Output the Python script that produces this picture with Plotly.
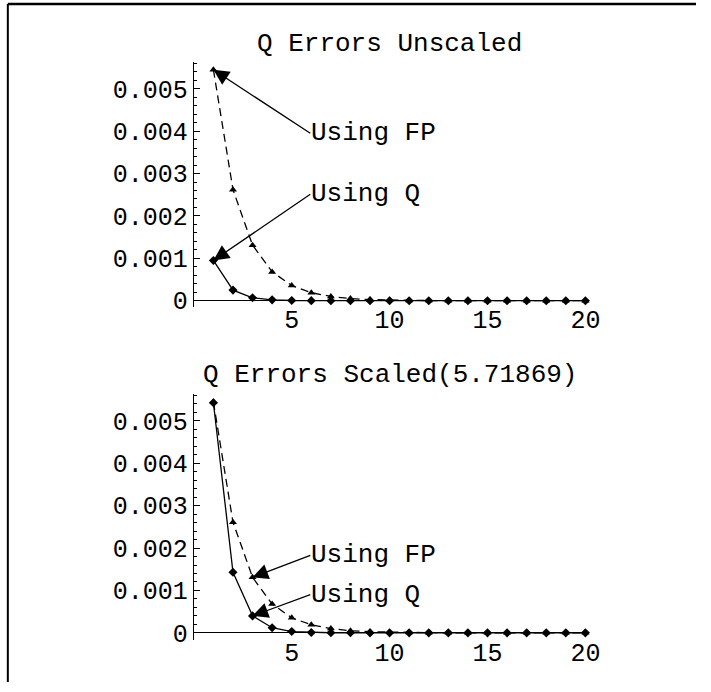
import plotly.graph_objects as go

W, H = 711, 692

x_vals = list(range(1, 21))

# Top plot: unscaled errors
fp_unscaled = [0.00545, 0.00262, 0.00131, 0.00068, 0.00036, 0.00019, 0.00010, 0.00005,
               0.000027, 0.000014, 0.000007, 0.0000036, 0.0000018, 0.0000009, 0.0000005,
               0.0000002, 0.0000001, 0.00000006, 0.00000003, 0.00000002]
q_unscaled = [0.00095, 0.00025, 0.00007, 0.00002, 0.000005, 0.0000015, 0.0000004, 0.0000001,
              0.00000003, 0.00000001, 0.0, 0.0, 0.0, 0.0, 0.0, 0.0, 0.0, 0.0, 0.0, 0.0]

# Bottom plot: scaled errors
fp_scaled = [0.00545, 0.00261, 0.00131, 0.00068, 0.000355, 0.00019, 0.00010, 0.00005,
             0.000027, 0.000014, 0.000007, 0.0000036, 0.0000018, 0.0000009, 0.0000005,
             0.0000002, 0.0000001, 0.00000006, 0.00000003, 0.00000002]
q_scaled = [0.00543, 0.00143, 0.00040, 0.00012, 0.00003, 0.000009, 0.0000025, 0.0000007,
            0.0000002, 0.00000005, 0.00000001, 0.0, 0.0, 0.0, 0.0, 0.0, 0.0, 0.0, 0.0, 0.0]

titles = ["Q Errors Unscaled", "Q Errors Scaled(5.71869)"]
ytick_vals = [0, 0.001, 0.002, 0.003, 0.004, 0.005]
ytick_text = ["0", "0.001", "0.002", "0.003", "0.004", "0.005"]
xtick_vals = [5, 10, 15, 20]
xtick_text = ["5", "10", "15", "20"]

# annotations: (label, tail x, tail y, head x, head y)
ann_top = [("Using FP", 5.95, 0.00395, 1, 0.00545),
           ("Using Q", 5.95, 0.00251, 1, 0.00095)]
ann_bot = [("Using FP", 5.95, 0.00183, 3, 0.00131),
           ("Using Q", 5.95, 0.00090, 3, 0.00040)]

FONT = "Courier New, Liberation Mono, monospace"

fig = go.Figure()

def px_x(p):
    return p / W

def px_y(p):
    return 1 - p / H

plots = [
    dict(fp=fp_unscaled, q=q_unscaled, ann=ann_top, top=63, bottom=312, title_y=45, xa="x", ya="y"),
    dict(fp=fp_scaled, q=q_scaled, ann=ann_bot, top=400, bottom=649, title_y=380, xa="x2", ya="y2"),
]

annotations = []
for i, p in enumerate(plots):
    fig.add_trace(go.Scatter(x=x_vals, y=p["fp"], mode="lines+markers",
                             line=dict(color="black", width=1.3, dash="8px,5px"),
                             marker=dict(symbol="triangle-up", size=7, color="black"),
                             xaxis=p["xa"], yaxis=p["ya"], cliponaxis=False, showlegend=False))
    fig.add_trace(go.Scatter(x=x_vals, y=p["q"], mode="lines+markers",
                             line=dict(color="black", width=1.3),
                             marker=dict(symbol="diamond", size=7, color="black"),
                             xaxis=p["xa"], yaxis=p["ya"], cliponaxis=False, showlegend=False))
    for (label, tx, ty, hx, hy) in p["ann"]:
        annotations.append(dict(text=label, x=hx, y=hy, ax=tx, ay=ty,
                                xref=p["xa"], yref=p["ya"], axref=p["xa"], ayref=p["ya"],
                                showarrow=True, arrowhead=2, arrowsize=2.4, arrowwidth=1.3,
                                arrowcolor="black", standoff=0, xanchor="left", yanchor="middle",
                                borderpad=0, font=dict(family=FONT, size=26, color="black")))
    annotations.append(dict(text=titles[i], x=(198 + 598) / 2 / W, y=px_y(p["title_y"]),
                            xref="paper", yref="paper", showarrow=False,
                            xanchor="center", yanchor="middle",
                            font=dict(family=FONT, size=26, color="black")))

xaxis_common = dict(range=[0, 20], tickvals=xtick_vals, ticktext=xtick_text, ticks="",
                    showgrid=False, zeroline=False, showline=False,
                    tickfont=dict(family=FONT, size=25, color="black"),
                    ticklabelstandoff=-5,
                    domain=[198 / W, 598 / W])
yaxis_common = dict(range=[-0.00016, 0.00563], tickvals=ytick_vals, ticktext=ytick_text,
                    ticks="inside", ticklen=6, tickwidth=1, tickcolor="black",
                    minor=dict(dtick=0.0002, ticks="inside", ticklen=3, tickcolor="black", tickwidth=1),
                    showgrid=False, zeroline=True, zerolinecolor="black", zerolinewidth=1,
                    showline=True, linecolor="black", linewidth=1,
                    tickfont=dict(family=FONT, size=25, color="black"),
                    ticklabelstandoff=0)

fig.update_layout(
    width=W, height=H,
    margin=dict(l=0, r=0, t=0, b=0),
    paper_bgcolor="white", plot_bgcolor="white",
    xaxis=dict(**xaxis_common, anchor="y"),
    yaxis=dict(**yaxis_common, anchor="x",
               domain=[px_y(plots[0]["bottom"]), px_y(plots[0]["top"])]),
    xaxis2=dict(**xaxis_common, anchor="y2"),
    yaxis2=dict(**yaxis_common, anchor="x2",
                domain=[px_y(plots[1]["bottom"]), px_y(plots[1]["top"])]),
    annotations=annotations,
    shapes=[
        dict(type="line", xref="paper", yref="paper", x0=px_x(8), x1=1, y0=px_y(4), y1=px_y(4),
             line=dict(color="black", width=2.5)),
        dict(type="line", xref="paper", yref="paper", x0=px_x(8), x1=px_x(8), y0=0, y1=px_y(4),
             line=dict(color="black", width=2)),
    ],
)

fig.write_html("out.html")
